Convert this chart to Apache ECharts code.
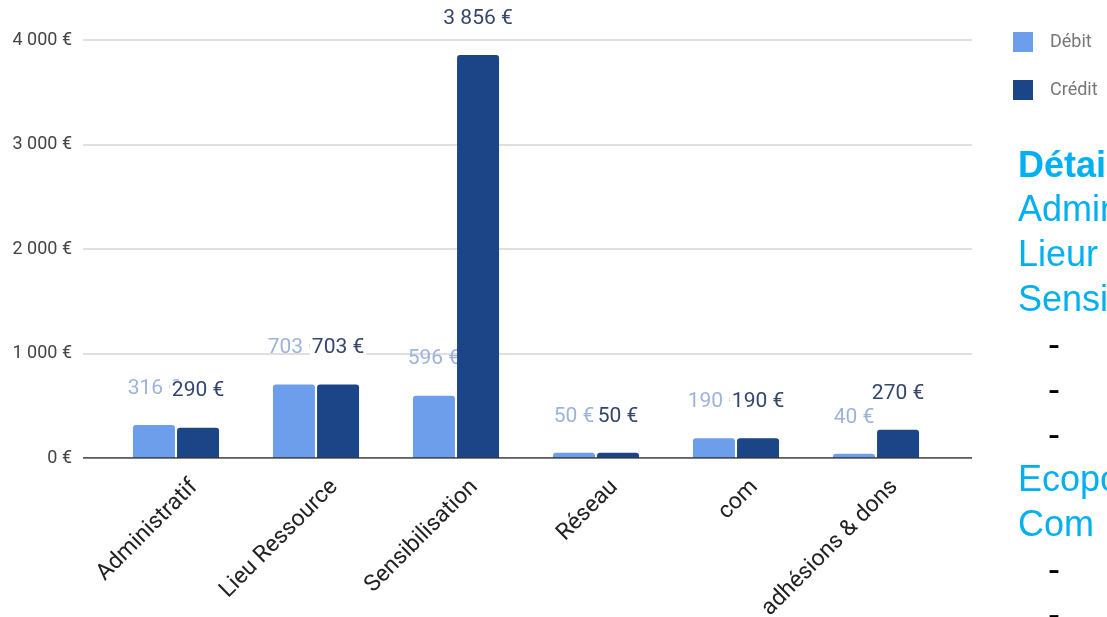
<!DOCTYPE html>
<html>
<head>
<meta charset="utf-8">
<script src="https://cdn.jsdelivr.net/npm/echarts@6/dist/echarts.min.js"></script>
<style>
  html, body { margin: 0; padding: 0; background: #fff; }
  #chart { width: 1107px; height: 617px; }
</style>
</head>
<body>
<div id="chart"></div>
<script>
var categories = ['Administratif', 'Lieu Ressource', 'Sensibilisation', 'Réseau', 'com', 'adhésions & dons'];
var debit = [316, 703, 596, 50, 190, 40];
var credit = [290, 703, 3856, 50, 190, 270];
var seriesNames = ['Débit', 'Crédit'];
var yTicks = [0, 1000, 2000, 3000, 4000];
var sideLines = [
    { text: 'Détails', bold: true },
    { text: 'Administratif' },
    { text: 'Lieur Ressource' },
    { text: 'Sensibilisation' },
    { text: '-', dash: true },
    { text: '-', dash: true },
    { text: '-', dash: true },
    { text: 'Ecopoles' },
    { text: 'Com' },
    { text: '-', dash: true },
    { text: '-', dash: true }
];

function euro(v) {
    var s = String(Math.round(v));
    s = s.replace(/\B(?=(\d{3})+(?!\d))/g, ' ');
    return s + ' €';
}

var chart = echarts.init(document.getElementById('chart'));

// cropped slide text on the right
var graphics = sideLines.map(function (l, i) {
    return {
        type: 'text',
        left: l.dash ? 1048 : 1018,
        top: i === 0 ? 149 : 193 + (i - 1) * 45,
        style: {
            text: l.text,
            fill: l.dash ? '#000' : '#00b0f0',
            font: (l.bold ? 'bold ' : '') + '36px "Liberation Sans", Arial, sans-serif'
        }
    };
});

var option = {
    animation: false,
    textStyle: { fontFamily: 'Roboto, sans-serif' },
    legend: {
        data: seriesNames,
        orient: 'vertical',
        left: 1008,
        top: 27,
        itemWidth: 20,
        itemHeight: 20,
        itemGap: 28,
        icon: 'rect',
        textStyle: { color: '#777', fontSize: 18, padding: [0, 0, 0, 12] }
    },
    grid: [
        { left: 106, right: 161, top: 40, bottom: 159, outerBoundsMode: 'none' },
        { left: 83, right: 135, top: 40, bottom: 159, outerBoundsMode: 'none' }
    ],
    xAxis: [
        {
            type: 'category',
            gridIndex: 0,
            data: categories,
            axisLine: { show: false },
            axisTick: { show: false },
            axisLabel: {
                rotate: 45,
                margin: 44,
                fontSize: 23,
                color: '#222',
                interval: 0,
                padding: [0, -26, 0, 0]
            }
        },
        {
            type: 'value',
            gridIndex: 1,
            min: 0,
            max: 1,
            axisLine: { show: false },
            axisTick: { show: false },
            axisLabel: { show: false },
            splitLine: { show: false }
        }
    ],
    yAxis: [
        {
            type: 'value',
            gridIndex: 0,
            min: yTicks[0],
            max: yTicks[yTicks.length - 1],
            interval: 1000,
            axisLabel: { show: false },
            axisLine: { show: false },
            axisTick: { show: false },
            splitLine: { show: false }
        },
        {
            type: 'value',
            gridIndex: 1,
            min: yTicks[0],
            max: yTicks[yTicks.length - 1],
            interval: 1000,
            axisLine: { show: false },
            axisTick: { show: false },
            axisLabel: {
                formatter: euro,
                color: '#444',
                fontSize: 18,
                margin: 11
            },
            splitLine: {
                lineStyle: { color: '#d6d6d6', width: 1.5 }
            }
        }
    ],
    series: [
        {
            name: seriesNames[0],
            type: 'bar',
            xAxisIndex: 0,
            yAxisIndex: 0,
            data: debit,
            z: 2,
            barWidth: 42,
            barGap: '5%',
            itemStyle: { color: '#6d9eeb', borderRadius: [3, 3, 0, 0] },
            label: {
                show: true,
                position: 'top',
                distance: 26,
                formatter: function (p) { return euro(p.value); },
                color: '#9db3dc',
                fontSize: 21
            }
        },
        {
            name: seriesNames[1],
            type: 'bar',
            xAxisIndex: 0,
            yAxisIndex: 0,
            data: credit,
            z: 3,
            barWidth: 42,
            itemStyle: { color: '#1c4587', borderRadius: [3, 3, 0, 0] },
            label: {
                show: true,
                position: 'top',
                distance: 26,
                formatter: function (p) { return euro(p.value); },
                color: '#34466e',
                fontSize: 21,
                backgroundColor: '#fff',
                padding: [0, 2]
            }
        },
        {
            // baseline at 0 across the full plot width
            type: 'line',
            xAxisIndex: 1,
            yAxisIndex: 1,
            data: [[0, 0], [1, 0]],
            symbol: 'none',
            silent: true,
            z: 4,
            lineStyle: { color: '#333', width: 1.5 }
        }
    ],
    graphic: graphics
};

chart.setOption(option);
</script>
</body>
</html>
